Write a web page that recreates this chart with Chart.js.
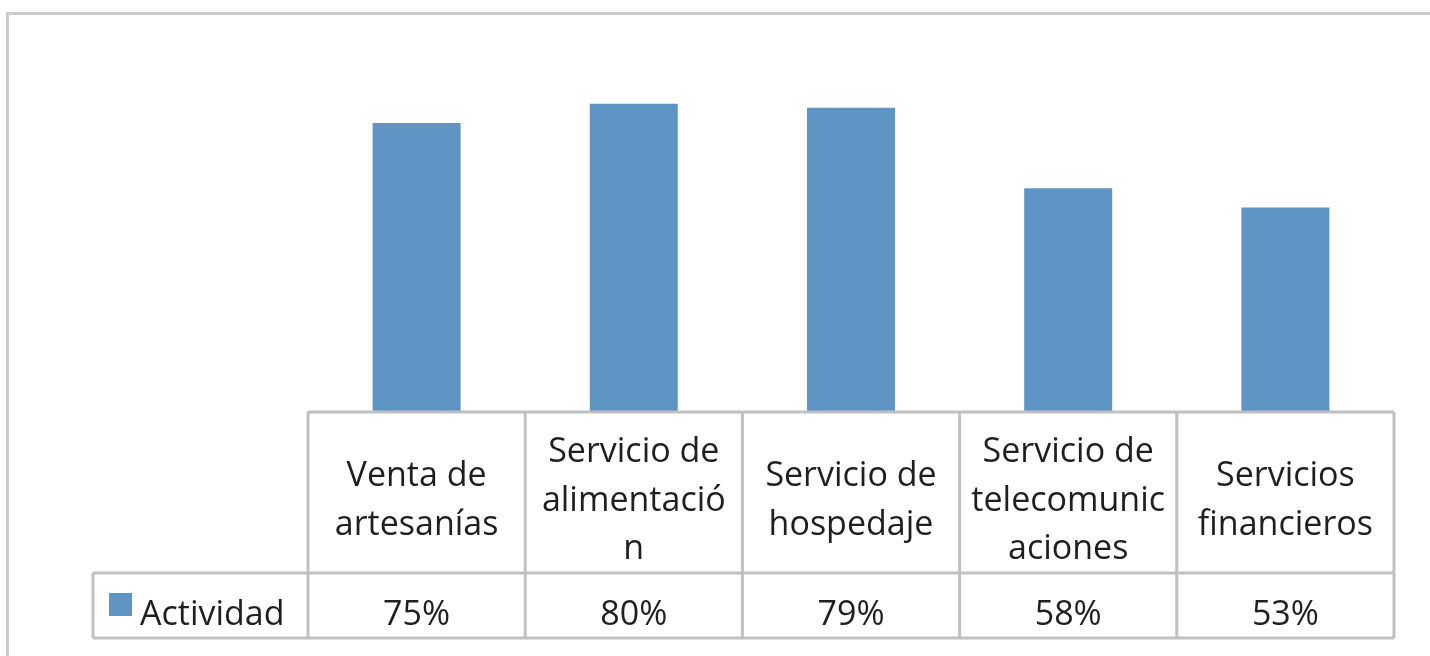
<!DOCTYPE html>
<html>
<head>
<meta charset="utf-8">
<script src="https://cdn.jsdelivr.net/npm/chart.js@4.4.0/dist/chart.umd.min.js"></script>
<style>
  html, body { margin: 0; padding: 0; background: #fff; }
  #wrap { width: 1430px; height: 656px; position: relative; }
</style>
</head>
<body>
<div id="wrap"><canvas id="chart" width="1430" height="656"></canvas></div>
<script>
// Data
const categories = [
    ['Venta de', 'artesanías'],
    ['Servicio de', 'alimentació', 'n'],
    ['Servicio de', 'hospedaje'],
    ['Servicio de', 'telecomunic', 'aciones'],
    ['Servicios', 'financieros']
];
const seriesName = 'Actividad';
const values = [75, 80, 79, 58, 53];
const valueLabels = ['75%', '80%', '79%', '58%', '53%'];

const BAR_COLOR = '#5e95c5';
const LINE_COLOR = '#c0c0c0';
const TEXT_COLOR = '#1f1f1f';
const FONT = '"Open Sans", "DejaVu Sans", sans-serif';

/**
 * Draws the Excel-style data table below the plot area, plus the chart frame
 */
const dataTablePlugin = {
    id: 'dataTable',
    afterDraw(chart) {
        const ctx = chart.ctx;
        const xs = chart.scales.x;
        const area = chart.chartArea;
        const n = categories.length;
        const colW = (area.right - area.left) / n;

        const top = area.bottom + 1;
        const mid = 573;
        const bottom = 638;
        const legendLeft = 93;

        ctx.save();

        // Outer chart frame (top + left only visible)
        ctx.strokeStyle = '#cbcbcb';
        ctx.lineWidth = 3;
        ctx.beginPath();
        ctx.moveTo(7.5, 656);
        ctx.lineTo(7.5, 13.5);
        ctx.lineTo(1430, 13.5);
        ctx.stroke();

        // Table grid
        ctx.strokeStyle = LINE_COLOR;
        ctx.lineWidth = 3;
        ctx.beginPath();
        ctx.moveTo(area.left, top);
        ctx.lineTo(area.right, top);
        ctx.moveTo(legendLeft, mid);
        ctx.lineTo(area.right, mid);
        ctx.moveTo(legendLeft, bottom);
        ctx.lineTo(area.right, bottom);
        ctx.moveTo(legendLeft, mid);
        ctx.lineTo(legendLeft, bottom);
        for (let i = 0; i <= n; i++) {
            const x = area.left + i * colW;
            ctx.moveTo(x, top);
            ctx.lineTo(x, bottom);
        }
        ctx.stroke();

        // Category labels
        ctx.fillStyle = TEXT_COLOR;
        ctx.font = '34px ' + FONT;
        ctx.textAlign = 'center';
        ctx.textBaseline = 'alphabetic';
        const lineH = 48.5;
        const headCenter = (top + mid) / 2;
        categories.forEach((lines, i) => {
            const cx = xs.getPixelForValue(i);
            const y0 = headCenter + 18 - (lines.length - 1) * lineH / 2;
            lines.forEach((t, k) => ctx.fillText(t, cx, y0 + k * lineH));
        });

        // Value row
        const rowBase = 625;
        valueLabels.forEach((t, i) => {
            ctx.fillText(t, xs.getPixelForValue(i), rowBase);
        });

        // Legend key + series name
        ctx.fillStyle = BAR_COLOR;
        ctx.fillRect(109, 593, 23, 23);
        ctx.fillStyle = TEXT_COLOR;
        ctx.textAlign = 'left';
        ctx.fillText(seriesName, 140, rowBase);

        ctx.restore();
    }
};

const ctx = document.getElementById('chart').getContext('2d');
new Chart(ctx, {
    type: 'bar',
    data: {
        labels: categories.map(c => c.join(' ')),
        datasets: [{
            label: seriesName,
            data: values,
            backgroundColor: BAR_COLOR,
            borderWidth: 0,
            categoryPercentage: 1,
            barPercentage: 0.405
        }]
    },
    options: {
        responsive: false,
        animation: false,
        layout: {
            padding: { left: 308, right: 36, top: 27, bottom: 245 }
        },
        plugins: {
            legend: { display: false },
            tooltip: { enabled: false }
        },
        scales: {
            x: { display: false },
            y: { display: false, min: 0, max: 100 }
        }
    },
    plugins: [dataTablePlugin]
});
</script>
</body>
</html>
